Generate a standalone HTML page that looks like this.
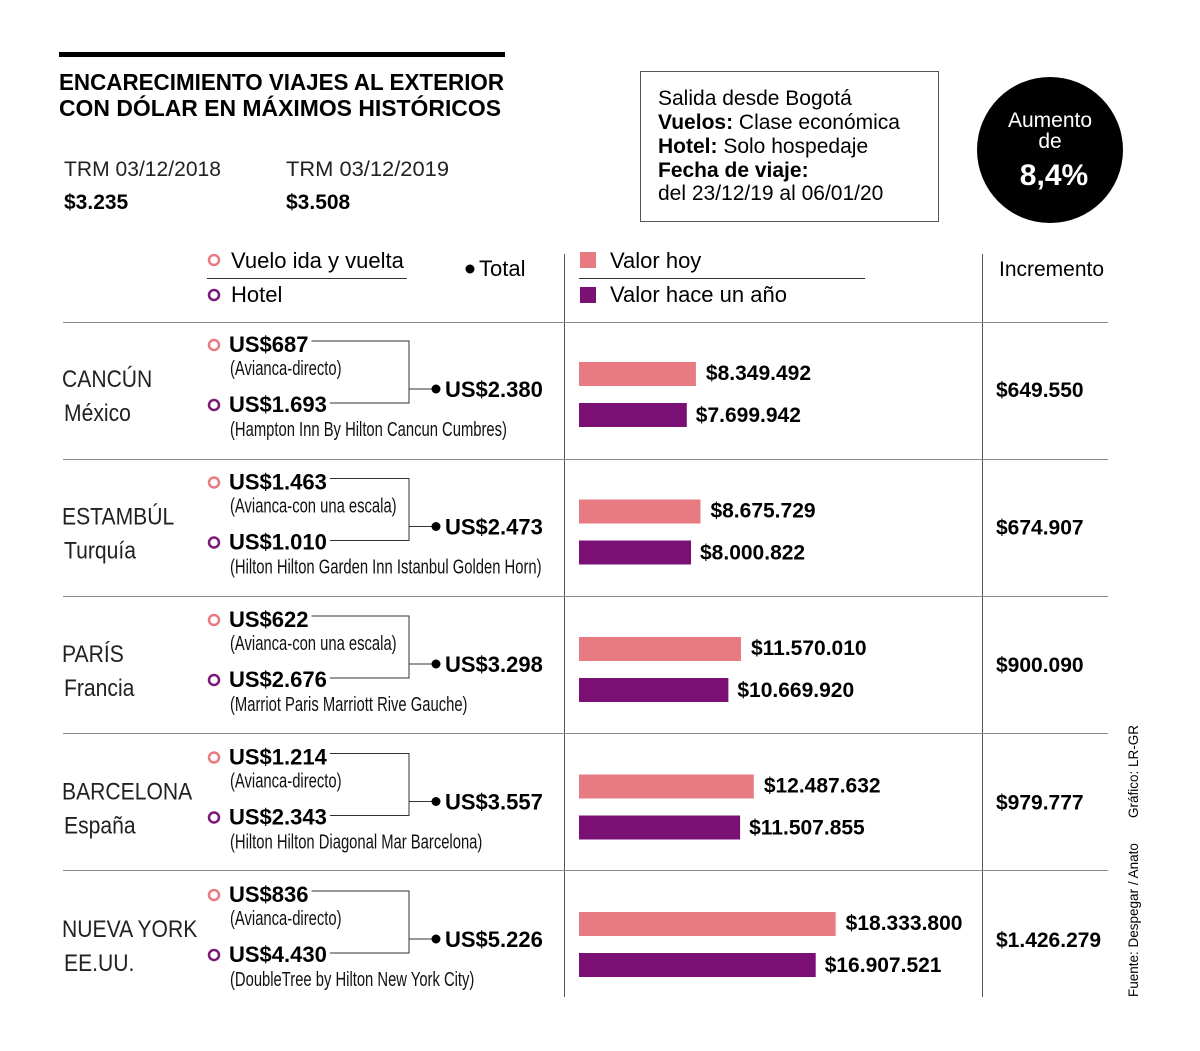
<!DOCTYPE html>
<html><head><meta charset="utf-8"><style>
body{margin:0;background:#fff;}
svg{display:block;font-family:"Liberation Sans",sans-serif;}
</style></head><body>
<svg id="c" width="1200" height="1051" viewBox="0 0 1200 1051">
<rect x="59" y="52" width="446" height="5" fill="#000"/>
<text x="59" y="90" font-size="23" font-weight="bold" textLength="445" lengthAdjust="spacingAndGlyphs">ENCARECIMIENTO VIAJES AL EXTERIOR</text>
<text x="59" y="116" font-size="23" font-weight="bold" textLength="442" lengthAdjust="spacingAndGlyphs">CON DÓLAR EN MÁXIMOS HISTÓRICOS</text>
<text x="64" y="176" font-size="21" fill="#222" textLength="157" lengthAdjust="spacingAndGlyphs">TRM 03/12/2018</text>
<text x="64" y="209" font-size="21" font-weight="bold">$3.235</text>
<text x="286" y="176" font-size="21" fill="#222" textLength="163" lengthAdjust="spacingAndGlyphs">TRM  03/12/2019</text>
<text x="286" y="209" font-size="21" font-weight="bold">$3.508</text>
<g>
<rect x="640.5" y="71.5" width="298" height="150" fill="none" stroke="#555" stroke-width="1"/>
<text x="658" y="105" font-size="21">Salida desde Bogotá</text>
<text x="658" y="129" font-size="21"><tspan font-weight="bold">Vuelos:</tspan> Clase económica</text>
<text x="658" y="153" font-size="21"><tspan font-weight="bold">Hotel:</tspan> Solo hospedaje</text>
<text x="658" y="177" font-size="21" font-weight="bold">Fecha de viaje:</text>
<text x="658" y="200" font-size="21">del 23/12/19 al 06/01/20</text>
</g>
<g>
<circle cx="1050" cy="150" r="73" fill="#000"/>
<text x="1050" y="127" font-size="21" fill="#fff" text-anchor="middle">Aumento</text>
<text x="1050" y="148" font-size="21" fill="#fff" text-anchor="middle">de</text>
<text x="1054" y="185" font-size="30" font-weight="bold" fill="#fff" text-anchor="middle">8,4%</text>
</g>
<g>
<circle cx="214" cy="260" r="5" fill="none" stroke="#e87a82" stroke-width="2.5"/>
<text x="231" y="268" font-size="22">Vuelo ida y vuelta</text>
<line x1="207" y1="278.5" x2="407" y2="278.5" stroke="#333"/>
<circle cx="214" cy="295" r="5" fill="none" stroke="#7a1a78" stroke-width="2.5"/>
<text x="231" y="302" font-size="22">Hotel</text>
<circle cx="470" cy="269" r="4.5" fill="#000"/>
<text x="479" y="276" font-size="22">Total</text>
<rect x="580" y="252" width="16" height="16" fill="#e87a82"/>
<text x="610" y="268" font-size="22">Valor hoy</text>
<line x1="579" y1="278.5" x2="865" y2="278.5" stroke="#333"/>
<rect x="580" y="287" width="16" height="16" fill="#7a0f74"/>
<text x="610" y="302" font-size="22">Valor hace un año</text>
<text x="999" y="276" font-size="21">Incremento</text>
</g>
<line x1="564.5" y1="254" x2="564.5" y2="997" stroke="#555"/>
<line x1="982.5" y1="254" x2="982.5" y2="997" stroke="#555"/>
<text transform="translate(1138,997) rotate(-90)" font-size="13.5">Fuente: Despegar / Anato</text>
<text transform="translate(1138,818) rotate(-90)" font-size="13.5">Gráfico: LR-GR</text>
<g id="rows"></g>
</svg>
<script>
const cities=["CANCÚN","ESTAMBÚL","PARÍS","BARCELONA","NUEVA YORK"];
const countries=["México","Turquía","Francia","España","EE.UU."];
const flightPrices=["US$687","US$1.463","US$622","US$1.214","US$836"];
const flightNotes=["(Avianca-directo)","(Avianca-con una escala)","(Avianca-con una escala)","(Avianca-directo)","(Avianca-directo)"];
const hotelPrices=["US$1.693","US$1.010","US$2.676","US$2.343","US$4.430"];
const hotelNotes=["(Hampton Inn By Hilton Cancun Cumbres)","(Hilton Hilton Garden Inn Istanbul Golden Horn)","(Marriot Paris Marriott Rive Gauche)","(Hilton Hilton Diagonal Mar Barcelona)","(DoubleTree by Hilton New York City)"];
const totals=["US$2.380","US$2.473","US$3.298","US$3.557","US$5.226"];
const valueToday=[8349492,8675729,11570010,12487632,18333800];
const valueLastYear=[7699942,8000822,10669920,11507855,16907521];
const increments=["$649.550","$674.907","$900.090","$979.777","$1.426.279"];

const NS="http://www.w3.org/2000/svg";
const g=document.getElementById('rows');
const rowTop=i=>322+i*137;
const xBar=v=>v/1e6*14.0;
const fmt=v=>'$'+String(v).replace(/\B(?=(\d{3})+(?!\d))/g,'.');
function mk(tag,attrs,parent,txt){const e=document.createElementNS(NS,tag);for(const k in attrs)e.setAttribute(k,attrs[k]);if(txt!==undefined)e.textContent=txt;(parent||g).appendChild(e);return e;}

mk('line',{x1:63,y1:322.5,x2:1108,y2:322.5,stroke:'#888'});
cities.forEach((c,i)=>{
  const T=rowTop(i);
  const d=i>0?i*0.5:0;
  const row=mk('g',{});
  
  
  if(i<cities.length-1)mk('line',{x1:63,y1:T+137.5,x2:1108,y2:T+137.5,stroke:'#888'},row);
  const ct=mk('text',{transform:`translate(62,${T+65+d}) scale(0.88,1)`,'font-size':24,fill:'#222'},row,c);
  
  
  const co=mk('text',{transform:`translate(64,${T+99+d}) scale(0.88,1)`,'font-size':24,fill:'#222'},row,countries[i]);
  
  
  const o=T+d;
  mk('circle',{cx:214,cy:o+23,r:5,fill:'none',stroke:'#e87a82','stroke-width':2.5},row);
  const f=mk('text',{x:229,y:o+30,'font-size':22,'font-weight':'bold'},row,flightPrices[i]);
  
  
  mk('text',{transform:`translate(230,${o+53}) scale(0.74,1)`,'font-size':20,fill:'#111'},row,flightNotes[i]);
  mk('circle',{cx:214,cy:o+83,r:5,fill:'none',stroke:'#7a1a78','stroke-width':2.5},row);
  const h=mk('text',{x:229,y:o+90,'font-size':22,'font-weight':'bold'},row,hotelPrices[i]);
  
  
  mk('text',{transform:`translate(230,${o+114}) scale(0.74,1)`,'font-size':20,fill:'#111'},row,hotelNotes[i]);
  const fx=229+f.getComputedTextLength()+3, hx=229+h.getComputedTextLength()+3;
  mk('polyline',{points:`${fx},${o+19} 409,${o+19} 409,${o+81} ${hx},${o+81}`,fill:'none',stroke:'#333'},row);
  mk('line',{x1:409,y1:o+67,x2:436,y2:o+67,stroke:'#333'},row);
  mk('circle',{cx:436,cy:o+67,r:4.5,fill:'#000'},row);
  const tt=mk('text',{x:445,y:o+75,'font-size':22,'font-weight':'bold'},row,totals[i]);
  
  
  const w1=xBar(valueToday[i]), w2=xBar(valueLastYear[i]);
  const b1=mk('rect',{x:579,y:o+40,width:w1,height:24,fill:'#e87a82'},row);
  
  
  const b2=mk('rect',{x:579,y:o+81,width:w2,height:24,fill:'#7a0f74'},row);
  
  
  mk('text',{x:579+w1+10,y:o+58,'font-size':21,'font-weight':'bold'},row,fmt(valueToday[i]));
  mk('text',{x:579+w2+9,y:o+100,'font-size':21,'font-weight':'bold'},row,fmt(valueLastYear[i]));
  const inc=mk('text',{x:996,y:o+75,'font-size':21,'font-weight':'bold'},row,increments[i]);
  
  
});
</script>
</body></html>
